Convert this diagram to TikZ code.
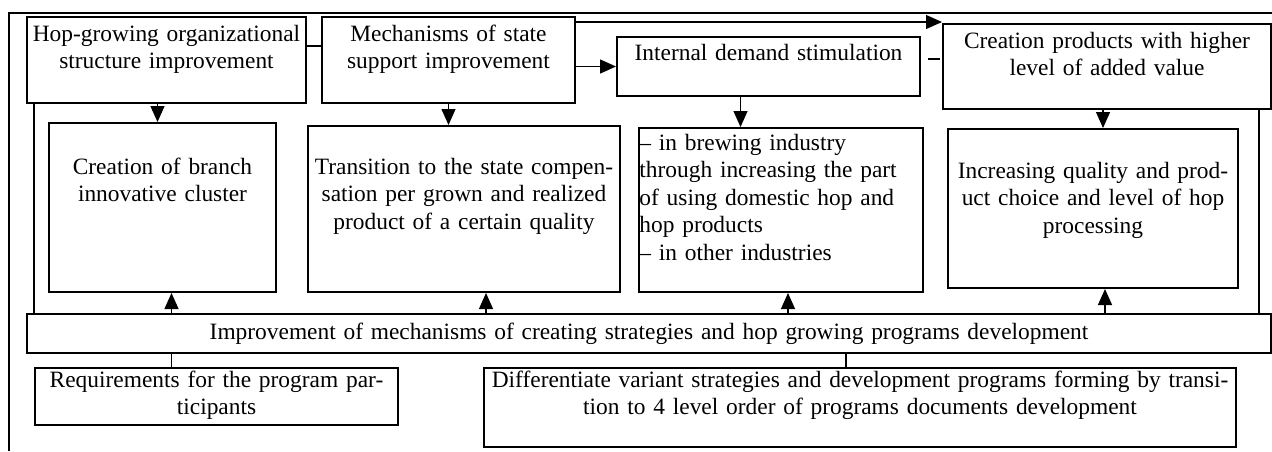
\documentclass[tikz,border=0pt]{standalone}
\usepackage{fontspec}
\setmainfont{Liberation Serif}
\usetikzlibrary{arrows.meta, calc, fit, positioning}

\begin{document}
\begin{tikzpicture}[>={Triangle[length=8pt, width=7pt]}, x=0.5pt, y=-0.5pt, every node/.style={font=\fontsize{11.7}{13.75}\selectfont}]
    % Define styles for boxes, texts and lines
    \tikzstyle{block} = [draw, rectangle, inner sep=0pt, line width=1pt]
    \tikzstyle{txt} = [anchor=base, align=center, inner sep=0pt, text width=200pt]
    \tikzstyle{line} = [draw, line width=0.6pt]
    \tikzstyle{frame} = [draw, line width=1pt]

    \useasboundingbox (0,0) rectangle (1272,451);

    % Outer frame, cut by the page edge
    \draw[frame] (9,451) |- (1272,13);

    % Nodes placement
    \node[block, fit={(27,17) (306,103)}] (orgstruct) {};
    \node[block, fit={(322,17) (575,103)}] (statesupport) {};
    \node[block, fit={(617,37) (920,96)}] (demand) {};
    \node[block, fit={(943,24) (1271,109)}] (addedvalue) {};
    \node[block, fit={(49,123) (276,292)}] (cluster) {};
    \node[block, fit={(308,126) (620,292)}] (compensation) {};
    \node[block, fit={(639,128) (923,292)}] (industry) {};
    \node[block, fit={(948,129) (1238,288)}] (quality) {};
    \node[block, fit={(27,314) (1271,353)}] (strategies) {};
    \node[block, fit={(35,368) (398,425)}] (requirements) {};
    \node[block, fit={(484,368) (1236,447)}] (differentiate) {};

    % Texts of the boxes
    \node[txt] (orgstruct-txt) at ($(orgstruct.north)+(0,25)$) {Hop-growing organizational\\structure improvement};
    \node[txt] (statesupport-txt) at ($(statesupport.north)+(0,25)$) {Mechanisms of state\\support improvement};
    \node[txt] (demand-txt) at ($(demand.north)+(0,24)$) {Internal demand stimulation};
    \node[txt] (addedvalue-txt) at ($(addedvalue.north)+(0,25)$) {Creation products with higher\\level of added value};
    \node[txt] (cluster-txt) at ($(cluster.north)+(0,52)$) {Creation of branch\\innovative cluster};
    \node[txt] (compensation-txt) at ($(compensation.north)+(0,49)$) {Transition to the state compen-\\sation per grown and realized\\product of a certain quality};
    \node[txt, anchor=base west, align=left] (industry-txt) at ($(industry.north west)+(1,23)$) {-- in brewing industry\\through increasing the part\\of using domestic hop and\\hop products\\-- in other industries};
    \node[txt] (quality-txt) at ($(quality.north)+(0,50)$) {Increasing quality and prod-\\uct choice and level of hop\\processing};
    \node[txt, text width=480pt] (strategies-txt) at ($(strategies.north)+(0,26)$) {Improvement of mechanisms of creating strategies and hop growing programs development};
    \node[txt] (requirements-txt) at ($(requirements.north)+(0,20)$) {Requirements for the program par-\\ticipants};
    \node[txt, text width=420pt] (differentiate-txt) at ($(differentiate.north)+(0,20)$) {Differentiate variant strategies and development programs forming by transi-\\tion to 4 level order of programs documents development};

    % Draw edges in the top row
    \draw[line] ($(orgstruct.north east)+(0,30)$) coordinate (c1) -- (c1 -| statesupport.west);
    \draw[line,->] (statesupport.east |- demand.west) -- (demand.west);
    \draw[line,->] ($(statesupport.north east)+(0,6)$) coordinate (c2) -- (c2 -| addedvalue.west);
    \draw[line] ($(demand.north east)+(7,23)$) -- ++(12,0);

    % Down to the middle row
    \draw[line,->] ($(orgstruct.south)+(-9,0)$) coordinate (a1) -- (a1 |- cluster.north);
    \draw[line,->] (statesupport.south) -- (statesupport.south |- compensation.north);
    \draw[line,->] ($(demand.south)+(-28,0)$) coordinate (a3) -- (a3 |- industry.north);
    \draw[line,->] ($(addedvalue.south)+(-4,0)$) coordinate (a4) -- (a4 |- quality.north);

    % Side lines down to the strategies bar
    \draw[line, line width=1pt] ($(orgstruct.south west)+(8,0)$) coordinate (l1) -- (l1 |- strategies.north);
    \draw[line, line width=1pt] ($(addedvalue.south east)+(-13,0)$) coordinate (l2) -- (l2 |- strategies.north);

    % Up from the strategies bar
    \draw[line,<-] ($(cluster.south)+(9,0)$) coordinate (u1) -- (u1 |- strategies.north);
    \draw[line,<-] ($(compensation.south)+(22,0)$) coordinate (u2) -- (u2 |- strategies.north);
    \draw[line,<-] ($(industry.south)+(7,0)$) coordinate (u3) -- (u3 |- strategies.north);
    \draw[line,<-] ($(quality.south)+(12,0)$) coordinate (u4) -- (u4 |- strategies.north);

    % Bottom row
    \draw[line] ($(requirements.north)+(-45,0)$) coordinate (d1) -- (d1 |- strategies.south);
    \draw[line] ($(differentiate.north)+(-14,0)$) coordinate (d2) -- (d2 |- strategies.south);
\end{tikzpicture}
\end{document}
